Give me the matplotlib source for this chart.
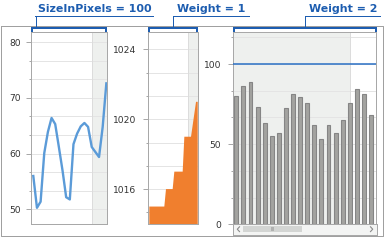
import numpy as np
import matplotlib.pyplot as plt
from matplotlib.ticker import MultipleLocator

# data
line_vals = [56.0, 50.3, 51.4, 60.1, 63.9, 66.4, 65.3, 61.2, 57.0, 52.2, 51.8,
             61.7, 63.6, 64.9, 65.5, 64.8, 61.2, 60.3, 59.4, 64.8, 72.6]
area_x = [0, 9, 10, 14, 15, 20, 21, 25, 28, 29]
area_y = [1015, 1015, 1016, 1016, 1017, 1017, 1019, 1019, 1021, 1021]
bar_vals = [80, 86.5, 88.6, 73.5, 63.5, 55, 56.7, 72.8, 81.6, 79.7,
            76, 61.8, 53.1, 61.8, 56.7, 64.8, 76, 84.7, 81, 68]
ref_value = 100
titles = ['SizeInPixels = 100', 'Weight = 1', 'Weight = 2']
yticks1 = [50, 60, 70, 80]
yticks2 = [1016, 1020, 1024]
yticks3 = [0, 50, 100]

W, H = 384, 241
PT = 0.72  # points per pixel at dpi 100
fig = plt.figure(figsize=(W / 100, H / 100), dpi=100)


def px_axes(x0, y0, x1, y1):
    return fig.add_axes([x0 / W, 1 - y1 / H, (x1 - x0) / W, (y1 - y0) / H])


def style(ax, pad):
    for s in ax.spines.values():
        s.set_color('#a8a8a8')
        s.set_linewidth(1 * PT)
    ax.tick_params(axis='y', which='major', length=5 * PT, width=PT,
                   color='#a8a8a8', labelsize=6.6, labelcolor='#333333', pad=pad)
    ax.tick_params(axis='y', which='minor', length=2 * PT, width=PT, color='#a8a8a8')
    ax.tick_params(axis='x', which='both', bottom=False, labelbottom=False)
    ax.grid(axis='y', which='both', color='#e4e4e4', lw=PT)
    ax.set_axisbelow(True)


band = '#eef0ee'

# panel 1 - line
ax1 = px_axes(31, 32, 106.7, 224)
ax1.axvspan(16.1, 20.2, color=band, zorder=0, lw=0)
ax1.axvline(16.1, color='#dcdcdc', lw=PT, zorder=0.6)
ax1.plot(np.arange(len(line_vals)), line_vals, color='#5b9bd8', lw=1.7, zorder=3)
ax1.set_xlim(-0.63, 20.1)
ax1.set_ylim(47.4, 81.8)
ax1.set_yticks(yticks1)
ax1.yaxis.set_minor_locator(MultipleLocator(10 / 3))
style(ax1, 3.8)

# panel 2 - area
ax2 = px_axes(148.3, 32, 197.7, 224)
ax2.axvspan(23.4, 29.5, color=band, zorder=0, lw=0)
ax2.axvline(23.4, color='#dcdcdc', lw=PT, zorder=0.6)
ax2.fill_between(area_x, area_y, 1000, color='#f07f2e', lw=0, zorder=3)
ax2.set_xlim(-0.6, 29)
ax2.set_ylim(1014, 1025)
ax2.set_yticks(yticks2)
ax2.yaxis.set_minor_locator(MultipleLocator(4 / 3))
style(ax2, 4.8)

# panel 3 - bars
ax3 = px_axes(233.3, 32, 376.3, 224.3)
ax3.axvspan(-0.5, 15.96, color=band, zorder=0, lw=0)
ax3.axvline(15.96, color='#dcdcdc', lw=PT, zorder=0.6)
ax3.bar(np.arange(len(bar_vals)), bar_vals, width=0.55, color='#a3a3a0',
        edgecolor='#858585', lw=0.8, zorder=3)
ax3.axhline(ref_value, color='#2a6fc4', lw=1.1, zorder=4)
ax3.set_xlim(-0.42, 19.73)
ax3.set_ylim(0, 120)
ax3.set_yticks(yticks3)
ax3.yaxis.set_minor_locator(MultipleLocator(50 / 3))
style(ax3, 5)

# scrollbar under panel 3
sb = px_axes(233.3, 224.3, 376.7, 235)
sb.set_xlim(233.3, 376.7)
sb.set_ylim(235, 224.3)
sb.set_facecolor('#f3f4f3')
for s in sb.spines.values():
    s.set_color('#a8a8a8')
    s.set_linewidth(PT)
sb.set_xticks([])
sb.set_yticks([])
sb.add_patch(plt.Rectangle((243.3, 226), 58.4, 6.3, color='#d3d5d3', lw=0))
sb.text(272.5, 229.4, 'III', fontsize=3.6, color='#8a8a8a', ha='center', va='center')
sb.plot([239.5, 237.3, 239.5], [226.8, 229.2, 231.6], color='#8a8a8a', lw=0.8)
sb.plot([370.5, 372.7, 370.5], [226.8, 229.2, 231.6], color='#8a8a8a', lw=0.8)

# overlay for frame and labels
ov = fig.add_axes([0, 0, 1, 1], zorder=10)
ov.set_xlim(0, W)
ov.set_ylim(H, 0)
ov.axis('off')
ov.patch.set_alpha(0)
ov.plot([0.5, 382.5, 382.5, 0.5, 0.5], [25.5, 25.5, 235.8, 235.8, 25.5],
        color='#a0a0a0', lw=PT)

blue = '#1d5db0'
specs = [  # text x, underline x0, x1, connector x, bracket x0, x1
    (38.3, 35, 153, 35.7, 31, 106.7),
    (176.7, 172.5, 248.7, 172.7, 148.3, 197.7),
    (308.7, 304.7, 380.3, 305, 233.7, 376.3),
]
for title, (tx, u0, u1, cx, b0, b1) in zip(titles, specs):
    ov.text(tx, 11.7, title, color=blue, fontsize=7.9, fontweight='bold',
            ha='left', va='baseline')
    ov.plot([u0, u1], [15.7, 15.7], color=blue, lw=PT)
    ov.plot([cx, cx], [15.7, 28], color=blue, lw=PT)
    ov.plot([b0 + 0.5, b0 + 0.5, b1 - 0.5, b1 - 0.5], [31, 28.2, 28.2, 31],
            color=blue, lw=2 * PT, solid_joinstyle='miter')

fig.savefig('out.png', dpi=100)
